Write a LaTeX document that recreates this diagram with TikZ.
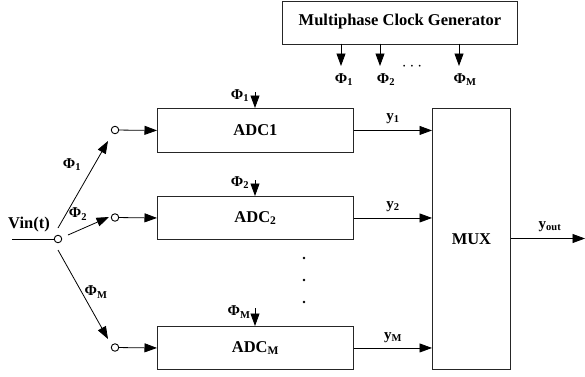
\documentclass[tikz,border=0pt]{standalone}
\usepackage{fontspec}
\setmainfont{Liberation Serif}
\usetikzlibrary{arrows.meta}
\begin{document}
\begin{tikzpicture}[x=1pt,y=-1pt,
  blk/.style={draw=black!85,line width=0.9pt,inner sep=0pt,anchor=north west},
  lbl/.style={inner sep=0pt,font=\fontsize{16.5}{16.5}\selectfont\bfseries},
  sml/.style={inner sep=0pt,font=\fontsize{15}{15}\selectfont\bfseries},
  arr/.style={line width=0.8pt,-{Triangle[length=12.5pt,width=9pt]}},
  ln/.style={line width=0.8pt},
  sw/.style={circle,draw,line width=0.9pt,fill=white,minimum size=7.5pt,inner sep=0pt},
  dot/.style={circle,fill=black,minimum size=2.8pt,inner sep=0pt}]
\useasboundingbox (0,0) rectangle (585,376);
% clock generator
\node[blk,minimum width=235pt,minimum height=43pt] (clk) at (282,0.5) {};
\node[lbl] (clkt) at (400,22) {Multiphase Clock Generator};
\coordinate (c1a) at (341,43.5); \coordinate (c1b) at (341,66);
\coordinate (c2a) at (380,43.5); \coordinate (c2b) at (380,66);
\coordinate (c3a) at (459,43.5); \coordinate (c3b) at (459,66);
\draw[arr] (c1a) -- (c1b);
\draw[arr] (c2a) -- (c2b);
\draw[arr] (c3a) -- (c3b);
\node[sml] (p1) at (344,80) {Φ\textsubscript{1}};
\node[sml] (p2) at (386,80) {Φ\textsubscript{2}};
\node[sml] (pm) at (465,80) {Φ\textsubscript{M}};
\node[lbl] (cdots) at (412,67) {$\cdots$};
% ADC boxes
\node[blk,minimum width=196pt,minimum height=44pt] (adc1) at (157,108) {};
\node[blk,minimum width=196pt,minimum height=43pt] (adc2) at (157,196) {};
\node[blk,minimum width=196pt,minimum height=43pt] (adcm) at (157,326) {};
\node[lbl] (t1) at (adc1.center) {ADC1};
\node[lbl] (t2) at (adc2.center) {ADC\textsubscript{2}};
\node[lbl] (tm) at (adcm.center) {ADC\textsubscript{M}};
% clock inputs to ADCs
\coordinate (a1) at (255,92);  \draw[arr] (a1) -- (adc1.north -| a1);
\coordinate (a2) at (255,180); \draw[arr] (a2) -- (adc2.north -| a2);
\coordinate (am) at (255,308); \draw[arr] (am) -- (adcm.north -| am);
\node[sml] (q1) at (240,96) {Φ\textsubscript{1}};
\node[sml] (q2) at (240,183) {Φ\textsubscript{2}};
\node[sml] (qm) at (239,312) {Φ\textsubscript{M}};
% vertical dots
\node[dot] (d1) at (304,258) {};
\node[dot] (d2) at (304,280) {};
\node[dot] (d3) at (304,302) {};
% MUX
\node[blk,minimum width=78pt,minimum height=261pt] (mux) at (432,108) {};
\node[lbl] (muxt) at (mux.center) {MUX};
\draw[arr] (adc1.east) -- (adc1.east -| mux.west);
\draw[arr] (adc2.east) -- (adc2.east -| mux.west);
\draw[arr] (adcm.east) -- (adcm.east -| mux.west);
\node[sml] (y1) at (393,119) {y\textsubscript{1}};
\node[sml] (y2) at (393,207) {y\textsubscript{2}};
\node[sml] (ym) at (393,338) {y\textsubscript{M}};
\coordinate (out) at (585,238.5);
\draw[arr] (mux.east |- out) -- (out);
\node[sml] (yo) at (550,227) {y\textsubscript{out}};
% input switch
\node[sw] (s0) at (58,239) {};
\coordinate (vin) at (12,239);
\draw[ln] (vin) -- (s0);
\node[lbl] (vint) at (29,225) {Vin(t)};
\node[sw] (s1) at (115,130) {};
\node[sw] (s2) at (115,217.5) {};
\node[sw] (sm) at (115,347.5) {};
\draw[arr] (s1) -- (adc1.west);
\draw[arr] (s2) -- (adc2.west);
\draw[arr] (sm) -- (adcm.west);
\coordinate (b1s) at (58,228);  \coordinate (b1e) at (108,141);
\coordinate (b2s) at (68,235);  \coordinate (b2e) at (109,217);
\coordinate (bms) at (58,250);  \coordinate (bme) at (108,339);
\draw[arr] (b1s) -- (b1e);
\draw[arr] (b2s) -- (b2e);
\draw[arr] (bms) -- (bme);
\node[sml] (f1) at (72,165) {Φ\textsubscript{1}};
\node[sml] (f2) at (78,214) {Φ\textsubscript{2}};
\node[sml] (fm) at (96,292) {Φ\textsubscript{M}};
\end{tikzpicture}
\end{document}
